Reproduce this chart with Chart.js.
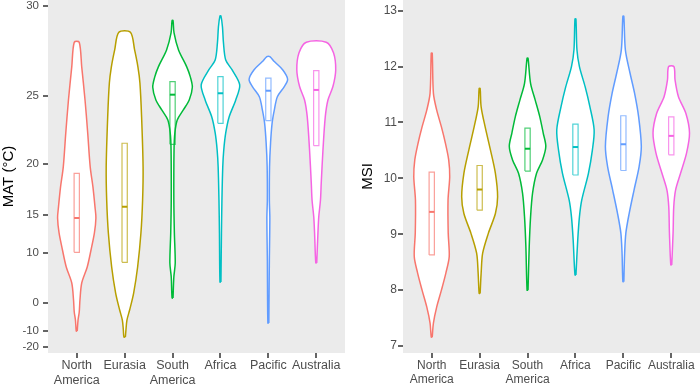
<!DOCTYPE html>
<html>
<head>
<meta charset="utf-8">
<script src="https://cdn.jsdelivr.net/npm/chart.js@4.4.1/dist/chart.umd.min.js"></script>
<style>
  html, body { margin: 0; padding: 0; background: #fff; }
  #wrap { position: relative; width: 700px; height: 387px; }
  canvas { position: absolute; top: 0; }
  #left { left: 0; }
  #right { left: 350px; }
</style>
</head>
<body>
<div id="wrap">
  <canvas id="left" width="350" height="387" style="width:350px;height:387px"></canvas>
  <canvas id="right" width="350" height="387" style="width:350px;height:387px"></canvas>
</div>
<script>
// regions, same order in both panels
const regions = [['North', 'America'], ['Eurasia'], ['South', 'America'], ['Africa'], ['Pacific'], ['Australia']];
const colors = ['#F8766D', '#B79F00', '#00BA38', '#00BFC4', '#619CFF', '#F564E3'];

// ---- MAT (°C), violin outlines read top -> bottom: value and half width (category units)
const matNAy = [28.16, 26.79, 24.76, 22.47, 19.75, 17.92, 15.88, 14.64, 12.80, 10.45, 7.73, 4.71, 0.79, -2.62, -5.35, -9.95];
const matNAw = [0.052, 0.104, 0.173, 0.229, 0.281, 0.338, 0.381, 0.400, 0.369, 0.298, 0.219, 0.104, 0.067, 0.052, 0.027, 0.010];
const matEUy = [28.68, 27.74, 26.79, 25.83, 23.62, 19.75, 16.62, 12.80, 7.73, 2.50, -2.01, -5.35, -9.47, -13.09];
const matEUw = [0.121, 0.208, 0.277, 0.319, 0.354, 0.385, 0.375, 0.340, 0.271, 0.188, 0.104, 0.048, 0.027, 0.015];
const matSAy = [29.28, 28.65, 27.74, 26.79, 26.20, 25.57, 24.76, 24.10, 23.41, 22.47, 21.16, 16.62, 12.80, 8.41, 5.90, 1.30];
const matSAw = [0.010, 0.031, 0.125, 0.296, 0.371, 0.413, 0.348, 0.225, 0.098, 0.048, 0.031, 0.027, 0.038, 0.056, 0.027, 0.010];
const matAFy = [29.51, 28.96, 28.12, 27.18, 26.61, 25.71, 24.76, 23.62, 22.47, 21.16, 19.75, 16.62, 12.80, 4.90];
const matAFw = [0.010, 0.042, 0.063, 0.110, 0.244, 0.402, 0.319, 0.181, 0.110, 0.069, 0.048, 0.031, 0.021, 0.010];
const matPAy = [27.37, 27.09, 26.61, 26.06, 25.61, 24.97, 24.10, 23.20, 21.71, 19.75, 16.62, 14.64, 8.90, -6.47];
const matPAw = [0.031, 0.125, 0.302, 0.402, 0.333, 0.188, 0.125, 0.079, 0.046, 0.025, 0.021, 0.031, 0.021, 0.010];
const matAUy = [28.16, 27.58, 26.61, 25.61, 24.76, 23.62, 21.16, 18.30, 16.62, 14.75, 12.80, 8.41];
const matAUw = [0.208, 0.360, 0.406, 0.348, 0.244, 0.188, 0.140, 0.104, 0.088, 0.052, 0.035, 0.010];
// boxes: lower hinge, median, upper hinge
const matQ1 = [10.10, 8.52, 21.61, 23.17, 23.36, 21.50];
const matMed = [14.64, 15.90, 25.10, 25.19, 25.35, 25.40];
const matQ3 = [19.19, 21.69, 25.91, 26.21, 26.12, 26.57];
const matTicks = [30, 25, 20, 15, 10, 0, -10, -20];
const matLimits = [-26.07, 30.28];

// ---- MSI
const msiNAy = [12.24, 11.52, 11.22, 10.92, 10.63, 10.33, 10.03, 9.61, 9.02, 8.60, 8.31, 8.00, 7.70, 7.41, 7.16];
const msiNAw = [0.010, 0.035, 0.104, 0.202, 0.285, 0.354, 0.375, 0.340, 0.344, 0.365, 0.296, 0.202, 0.104, 0.035, 0.010];
const msiEUy = [11.61, 11.28, 10.92, 10.51, 10.09, 9.67, 9.37, 9.02, 8.66, 8.30, 7.94];
const msiEUw = [0.010, 0.031, 0.115, 0.225, 0.329, 0.375, 0.329, 0.183, 0.063, 0.031, 0.010];
const msiSAy = [12.15, 11.70, 11.40, 11.10, 10.81, 10.57, 10.33, 10.09, 9.73, 9.31, 8.78, 8.00];
const msiSAw = [0.010, 0.063, 0.160, 0.256, 0.327, 0.381, 0.313, 0.188, 0.104, 0.063, 0.035, 0.010];
const msiAFy = [12.85, 12.30, 12.00, 11.64, 11.28, 10.87, 10.51, 10.09, 9.61, 9.31, 8.90, 8.27];
const msiAFw = [0.010, 0.031, 0.083, 0.202, 0.302, 0.390, 0.354, 0.271, 0.131, 0.083, 0.048, 0.010];
const msiPAy = [12.90, 12.30, 11.88, 11.52, 11.10, 10.57, 10.21, 9.79, 9.37, 9.02, 8.66, 8.15];
const msiPAw = [0.010, 0.042, 0.140, 0.235, 0.319, 0.375, 0.329, 0.223, 0.121, 0.052, 0.027, 0.010];
const msiAUy = [12.00, 11.76, 11.46, 11.16, 10.81, 10.45, 10.09, 9.79, 9.49, 9.02, 8.45];
const msiAUw = [0.056, 0.079, 0.150, 0.306, 0.381, 0.319, 0.194, 0.090, 0.052, 0.038, 0.010];
const msiQ1 = [8.63, 9.43, 10.13, 10.06, 10.14, 10.42];
const msiMed = [9.40, 9.80, 10.53, 10.56, 10.61, 10.76];
const msiQ3 = [10.11, 10.23, 10.90, 10.97, 11.12, 11.10];
const msiTicks = [13, 12, 11, 10, 9, 8, 7];
const msiLimits = [6.875, 13.191];

const BOX_HALF = 0.055;
const TICK_LEN = 5;
const FONT = "'Liberation Sans', Arial, sans-serif";

// the MAT axis is drawn on an exponential scale (1.333x spacing per 5 degrees)
const K = Math.log(4 / 3) / 5;
const expT = v => Math.exp(K * v);
const ident = v => v;

const panelBg = {
  id: 'panelBg',
  beforeDraw(chart) {
    const { ctx, chartArea: a } = chart;
    ctx.save();
    ctx.fillStyle = '#EBEBEB';
    ctx.fillRect(a.left, a.top, a.right - a.left, a.bottom - a.top);
    ctx.restore();
  }
};

// short tick marks outside the panel, ggplot style
const tickMarks = {
  id: 'tickMarks',
  afterDraw(chart) {
    const { ctx, chartArea: a } = chart;
    const xs = chart.scales.x, ys = chart.scales.y;
    ctx.save();
    ctx.strokeStyle = '#333333';
    ctx.lineWidth = 1.5;
    ctx.beginPath();
    xs.ticks.forEach(t => {
      const px = Math.round(xs.getPixelForValue(t.value));
      ctx.moveTo(px, a.bottom);
      ctx.lineTo(px, a.bottom + TICK_LEN);
    });
    ys.ticks.forEach(t => {
      const py = Math.round(ys.getPixelForValue(t.value));
      ctx.moveTo(a.left - TICK_LEN, py);
      ctx.lineTo(a.left, py);
    });
    ctx.stroke();
    ctx.restore();
  }
};

function violinPoints(x, ys, ws, tr) {
  const right = ys.map((y, i) => ({ x: x + ws[i], y: tr(y) })).reverse();
  const left = ys.map((y, i) => ({ x: x - ws[i], y: tr(y) }));
  const pts = right.concat(left);
  pts.push(pts[0]);
  return pts;
}

function buildDatasets(violins, q1, med, q3, tr) {
  const ds = [];
  violins.forEach(([ys, ws], i) => {
    const x = i + 1;
    ds.push({
      data: violinPoints(x, ys, ws, tr),
      showLine: true, fill: 'shape', backgroundColor: '#FFFFFF',
      borderColor: colors[i], borderWidth: 1.5, tension: 0.3,
      pointRadius: 0, order: 3
    });
    ds.push({
      data: [
        { x: x - BOX_HALF, y: tr(q1[i]) }, { x: x + BOX_HALF, y: tr(q1[i]) },
        { x: x + BOX_HALF, y: tr(q3[i]) }, { x: x - BOX_HALF, y: tr(q3[i]) },
        { x: x - BOX_HALF, y: tr(q1[i]) }
      ],
      showLine: true, fill: false, borderColor: colors[i] + 'B0', borderWidth: 1.2,
      tension: 0, pointRadius: 0, order: 2
    });
    ds.push({
      data: [{ x: x - BOX_HALF, y: tr(med[i]) }, { x: x + BOX_HALF, y: tr(med[i]) }],
      showLine: true, fill: false, borderColor: colors[i], borderWidth: 2,
      tension: 0, pointRadius: 0, order: 1
    });
  });
  return ds;
}

function makeChart(id, o) {
  const hiddenGrid = { drawOnChartArea: false, drawTicks: true, tickLength: TICK_LEN, color: 'rgba(0,0,0,0)' };
  return new Chart(document.getElementById(id), {
    type: 'scatter',
    data: { datasets: buildDatasets(o.violins, o.q1, o.med, o.q3, o.tr) },
    options: {
      responsive: false,
      animation: false,
      layout: { padding: { top: 0, right: o.padRight, bottom: 0, left: 0 } },
      plugins: { legend: { display: false }, tooltip: { enabled: false } },
      scales: {
        x: {
          type: 'linear', min: 0.4, max: 6.6,
          afterBuildTicks: s => { s.ticks = regions.map((r, i) => ({ value: i + 1 })); },
          afterFit: s => { s.height = 34; s.paddingLeft = 0; s.paddingRight = 0; },
          ticks: {
            autoSkip: false, maxRotation: 0, padding: 0,
            color: '#4D4D4D', font: { family: FONT, size: o.xFont, lineHeight: 1.2 },
            callback: (v, i) => regions[i]
          },
          grid: hiddenGrid,
          border: { display: false }
        },
        y: {
          type: 'linear', min: o.tr(o.limits[0]), max: o.tr(o.limits[1]),
          afterBuildTicks: s => { s.ticks = o.ticks.map(v => ({ value: o.tr(v) })); },
          afterFit: s => { s.width = o.yWidth; s.paddingTop = 0; s.paddingBottom = 0; },
          ticks: {
            padding: o.tickPad, color: '#4D4D4D', font: { family: FONT, size: o.yFont },
            callback: (v, i) => String(o.ticks[i])
          },
          grid: hiddenGrid,
          border: { display: false },
          title: {
            display: true, text: o.title, color: '#000000',
            font: { family: FONT, size: 15 }, padding: { top: o.titlePad, bottom: 0 }
          }
        }
      }
    },
    plugins: [panelBg, tickMarks]
  });
}

makeChart('left', {
  violins: [[matNAy, matNAw], [matEUy, matEUw], [matSAy, matSAw], [matAFy, matAFw], [matPAy, matPAw], [matAUy, matAUw]],
  q1: matQ1, med: matMed, q3: matQ3, tr: expT, ticks: matTicks, limits: matLimits,
  title: 'MAT (°C)', yWidth: 48, padRight: 5, tickPad: 4, titlePad: 0, xFont: 12.5, yFont: 11.5
});

makeChart('right', {
  violins: [[msiNAy, msiNAw], [msiEUy, msiEUw], [msiSAy, msiSAw], [msiAFy, msiAFw], [msiPAy, msiPAw], [msiAUy, msiAUw]],
  q1: msiQ1, med: msiMed, q3: msiQ3, tr: ident, ticks: msiTicks, limits: msiLimits,
  title: 'MSI', yWidth: 53, padRight: 0, tickPad: 1, titlePad: 9, xFont: 12, yFont: 12
});
</script>
</body>
</html>
